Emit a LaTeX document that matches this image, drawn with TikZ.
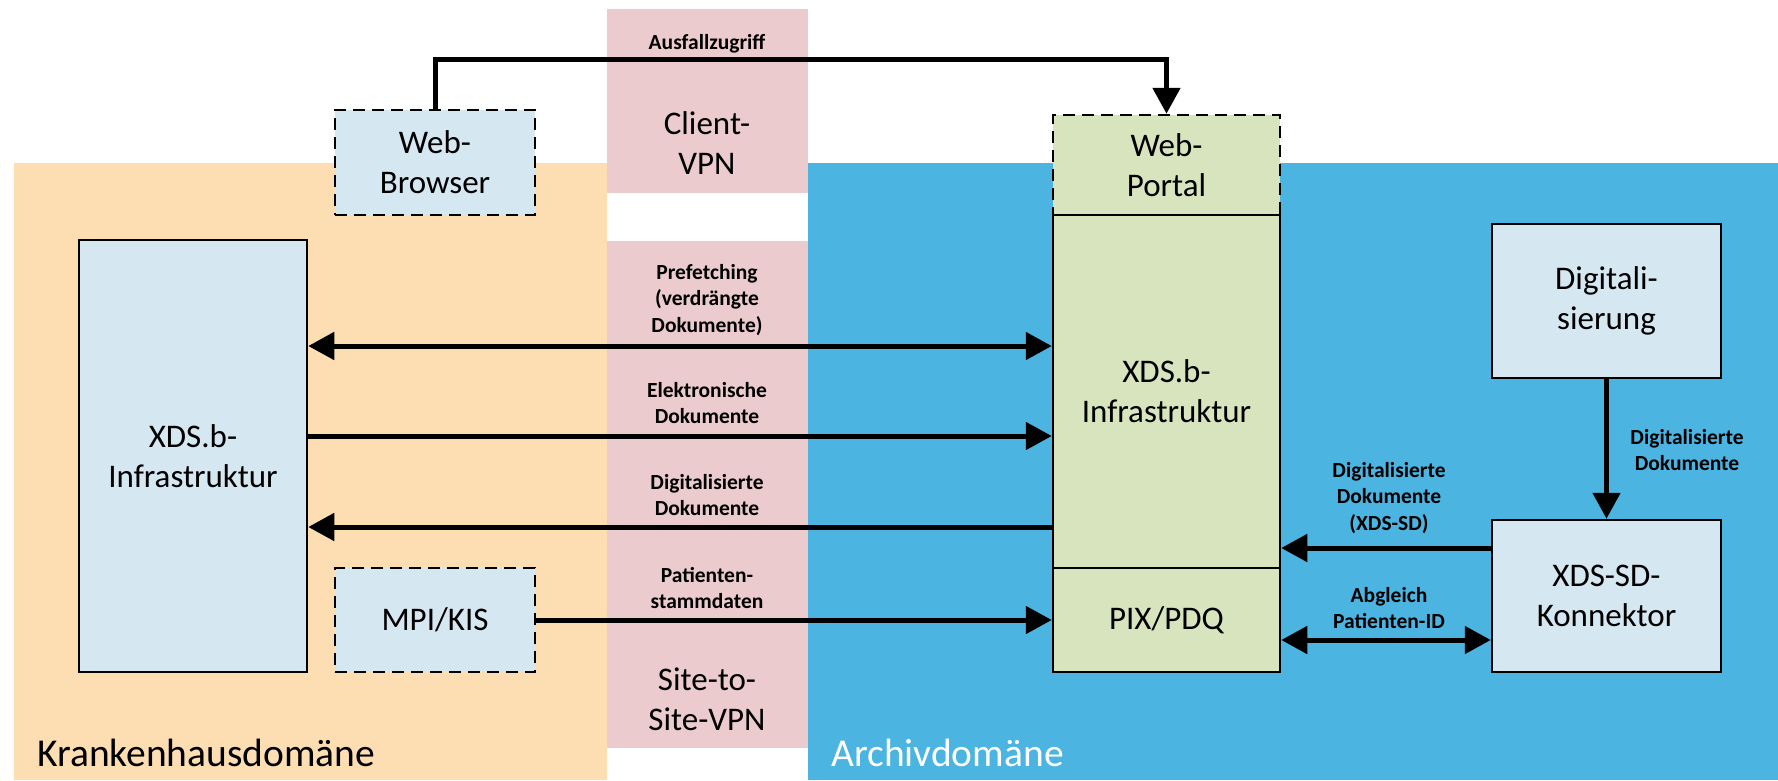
\documentclass[tikz,border=0pt]{standalone}
\usepackage{fontspec}
\setmainfont{Carlito}
\usetikzlibrary{arrows.meta}

\definecolor{klinik}{RGB}{253,222,179}
\definecolor{archiv}{RGB}{76,180,224}
\definecolor{vpn}{RGB}{235,203,206}
\definecolor{sysblue}{RGB}{213,231,240}
\definecolor{sysgreen}{RGB}{216,228,189}

\begin{document}
\begin{tikzpicture}[x=1pt,y=1pt,yscale=-1,
    >={Triangle[length=26pt,width=27pt]},
    sys/.style={draw=black,line width=2.5pt,inner sep=0pt,align=center,font=\fontsize{33}{40}\selectfont},
    ext/.style={sys,dash pattern=on 12pt off 7pt},
    flow/.style={line width=5pt},
    lbl/.style={align=center,inner sep=0pt,font=\bfseries\fontsize{21.5}{26.5}\selectfont},
    big/.style={align=center,inner sep=0pt,font=\fontsize{33}{40}\selectfont},
    dom/.style={anchor=west,inner sep=0pt,font=\fontsize{39.5}{46}\selectfont}]
\useasboundingbox (0,0) rectangle (1778,780);
%Shape: Rectangle [domains]
\fill[klinik] (14,163) rectangle (607,780);
\fill[archiv] (808,163) rectangle (1778,780);
%Shape: Rectangle [vpn]
\fill[vpn] (607,9) rectangle (808,193);
\fill[vpn] (607,241) rectangle (808,748);

%Shape: Boxes
\node[ext,fill=sysblue,minimum width=200pt,minimum height=105pt] (browser) at (435,162.5) {Web-\\Browser};
\node[ext,fill=sysgreen,minimum width=227pt,minimum height=100pt] (portal) at (1166.5,165) {Web-\\Portal};
\node[sys,fill=sysgreen,minimum width=227pt,minimum height=353pt] (rxds) at (1166.5,391.5) {XDS.b-\\Infrastruktur};
\node[sys,fill=sysgreen,minimum width=227pt,minimum height=104pt] (pix) at (1166.5,620) {PIX/PDQ};
\node[sys,fill=sysblue,minimum width=228pt,minimum height=432pt] (lxds) at (193,456) {XDS.b-\\Infrastruktur};
\node[ext,fill=sysblue,minimum width=200pt,minimum height=104pt] (mpi) at (435,620) {MPI/KIS};
\node[sys,fill=sysblue,minimum width=229pt,minimum height=154pt] (digi) at (1606.5,301) {Digitali-\\sierung};
\node[sys,fill=sysblue,minimum width=229pt,minimum height=152pt] (sdk) at (1606.5,596) {XDS-SD-\\Konnektor};

% Text Node
\node[lbl] (lausfall) at (707,44) {Ausfallzugriff};
\node[big] (lclient) at (707,143) {Client-\\VPN};
\node[lbl] (lprefetch) at (707,300) {Prefetching\\(verdrängte\\Dokumente)};
\node[lbl] (lelektro) at (707,403) {Elektronische\\Dokumente};
\node[lbl] (ldigital) at (707,495) {Digitalisierte\\Dokumente};
\node[lbl] (lstamm) at (707,588) {Patienten-\\stammdaten};
\node[big] (lsite) at (707,699) {Site-to-\\Site-VPN};
\node[lbl] (lscan) at (1687,450) {Digitalisierte\\Dokumente};
\node[lbl] (lxdssd) at (1389,498) {Digitalisierte\\Dokumente\\(XDS-SD)};
\node[lbl] (labgleich) at (1389,608) {Abgleich\\Patienten-ID};
\node[dom,text=black] (kh) at (37,753) {Krankenhausdomäne};
\node[dom,text=white] (ad) at (831,753) {Archivdomäne};

%Straight Lines
\coordinate (yPre) at (0,346);
\coordinate (yEl) at (0,436);
\coordinate (yDig) at (0,527);
\coordinate (ySd) at (0,548);
\coordinate (yAb) at (0,640);
\coordinate (turn) at (1166.5,59);
\draw[flow,->] (browser.north) |- (turn) -- (portal.north);
\draw[flow,<->] (lxds.east |- yPre) -- (rxds.west |- yPre);
\draw[flow,->] (lxds.east |- yEl) -- (rxds.west |- yEl);
\draw[flow,<-] (lxds.east |- yDig) -- (rxds.west |- yDig);
\draw[flow,->] (mpi.east) -- (pix.west);
\draw[flow,->] (digi.south) -- (sdk.north);
\draw[flow,<-] (rxds.east |- ySd) -- (sdk.west |- ySd);
\draw[flow,<->] (pix.east |- yAb) -- (sdk.west |- yAb);
\end{tikzpicture}
\end{document}
